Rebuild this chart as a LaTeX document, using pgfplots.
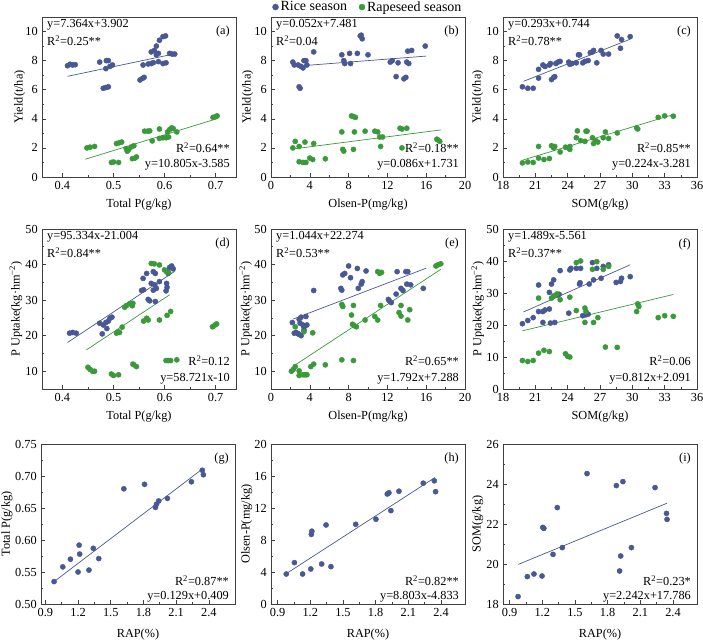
\documentclass[border=0pt]{standalone}
\usepackage{pgfplots}
\pgfplotsset{compat=1.18}
\usepackage{fontspec}
\setmainfont{Liberation Serif}
\definecolor{riceblue}{RGB}{72,88,148}
\definecolor{rapegreen}{RGB}{58,154,58}
\pgfplotsset{
  panel/.style={
    scale only axis, width=194pt, height=160pt, anchor=south west,
    axis line style={black!75, line width=0.6pt},
    tick style={black!75, line width=0.6pt},
    tick align=inside, xtick pos=left, ytick pos=left,
    minor tick num=1, major tick length=4pt, minor tick length=2.2pt,
    /pgf/number format/assume math mode=true,
    tick label style={font=\fontsize{12.3}{14}\selectfont},
    label style={font=\fontsize{12.3}{14}\selectfont},
    xlabel style={at={(axis description cs:0.5,-0.17)}, anchor=center},
    scaled ticks=false,
  },
  rice/.style={only marks, mark=*, mark size=2.6pt, color=riceblue, mark options={draw=riceblue, fill=riceblue}},
  rape/.style={only marks, mark=*, mark size=2.6pt, color=rapegreen, mark options={draw=rapegreen, fill=rapegreen}},
  rline/.style={riceblue, line width=0.7pt, no marks, forget plot},
  gline/.style={rapegreen, line width=0.7pt, no marks, forget plot},
}
\newcommand{\TLtext}[2]{%
  \node[anchor=west,inner sep=0pt,xshift=5pt,yshift=-8pt] at (rel axis cs:0,1) {#1};
  \node[anchor=west,inner sep=0pt,xshift=5pt,yshift=-24pt] at (rel axis cs:0,1) {#2};}
\newcommand{\BRtext}[4]{%
  \node[anchor=east,inner sep=0pt,xshift=-6pt,yshift=#3pt] at (rel axis cs:1,0) {#1};
  \node[anchor=east,inner sep=0pt,xshift=-6pt,yshift=#4pt] at (rel axis cs:1,0) {#2};}
\newcommand{\Plab}[1]{\node[anchor=east,inner sep=0pt,xshift=-6pt,yshift=-15pt] at (rel axis cs:1,1) {#1};}
\begin{document}
\fontsize{12.3pt}{14pt}\selectfont
\begin{tikzpicture}
\useasboundingbox (0,0) rectangle (703pt,642pt);
% ---------------- (a)
\begin{axis}[panel, at={(42pt,465pt)}, xmin=0.36, xmax=0.74, ymin=0, ymax=11,
  xtick={0.4,0.5,0.6,0.7}, ytick={0,2,...,10},
  xlabel={Total P(g/kg)}, ylabel={Yield(t/ha)},
  ylabel style={at={(axis description cs:-0.115,0.5)}, anchor=center}]
\addplot[rice] coordinates {(0.41,7.65)(0.415,7.75)(0.42,7.7)(0.425,7.72)
 (0.473,7.9)(0.486,8.0)(0.49,8.0)(0.485,7.45)(0.493,7.6)(0.498,7.7)
 (0.48,6.1)(0.485,6.15)(0.49,6.2)(0.552,6.67)(0.557,6.78)(0.56,6.85)
 (0.558,7.7)(0.568,7.77)(0.574,7.8)(0.578,7.86)(0.588,7.93)(0.597,7.8)(0.603,7.85)
 (0.574,8.6)(0.58,8.7)(0.584,8.4)(0.588,8.5)(0.584,9.0)(0.59,9.4)(0.597,9.65)(0.602,9.7)
 (0.61,8.5)(0.615,8.45)(0.62,8.45)};
\addplot[rape] coordinates {(0.448,2.0)(0.454,2.05)(0.463,2.1)
 (0.496,1.0)(0.5,1.03)(0.51,1.0)(0.506,2.3)(0.511,2.35)(0.516,2.4)
 (0.525,1.95)(0.527,1.77)(0.53,1.9)(0.535,2.07)(0.54,2.15)
 (0.537,1.26)(0.542,1.3)(0.545,1.38)(0.561,3.15)(0.567,3.15)(0.571,3.17)
 (0.576,2.48)(0.59,2.65)(0.597,2.7)(0.59,3.3)(0.603,2.7)(0.608,2.75)
 (0.606,3.1)(0.61,3.26)(0.614,3.38)(0.617,3.33)(0.624,3.1)
 (0.695,4.1)(0.7,4.15)(0.703,4.2)};
\addplot[rline] coordinates {(0.41,6.921)(0.62,8.468)};
\addplot[gline] coordinates {(0.445,1.223)(0.705,4.033)};
\TLtext{y=7.364x+3.902}{R\textsuperscript{2}=0.25**}
\BRtext{R\textsuperscript{2}=0.64**}{y=10.805x-3.585}{29}{12}
\Plab{(a)}
\end{axis}
% ---------------- (b)
\begin{axis}[panel, at={(271pt,465pt)}, xmin=0, xmax=20, ymin=0, ymax=11,
  xtick={0,4,...,20}, ytick={0,2,...,10},
  xlabel={Olsen-P(mg/kg)}, ylabel={Yield(t/ha)},
  ylabel style={at={(axis description cs:-0.12,0.5)}, anchor=center},
  legend style={at={(0.5,1.062)}, anchor=center, draw=none, fill=none,
    font=\fontsize{14}{16}\selectfont, legend columns=2, inner sep=0pt,
    /tikz/every even column/.append style={column sep=10pt}},
  legend image code/.code={\draw[mark repeat=2,mark phase=2,#1,mark size=3pt] plot coordinates {(0cm,0cm)(0.17cm,0cm)(0.34cm,0cm)};},
  legend cell align=left]
\addplot[rice] coordinates {(2.25,7.9)(2.4,7.7)(2.8,7.7)(3.1,7.6)(3.3,7.5)(2.9,6.2)(3.0,6.1)
 (3.4,8.0)(3.6,8.0)(3.7,7.7)(4.4,8.6)(7.3,8.4)(7.5,8.0)(7.6,7.8)(8.1,8.5)(8.2,7.8)
 (8.9,8.5)(9.2,9.7)(9.3,9.75)(9.4,9.5)(10.0,8.4)(12.3,7.9)(12.5,8.0)(13.1,7.85)
 (12.9,6.9)(13.7,6.75)(13.9,6.85)(14.0,7.9)(14.2,7.8)(14.1,8.65)(14.5,8.7)(15.9,9.0)};
\addlegendentry{Rice season}
\addplot[rape] coordinates {(2.25,2.0)(2.5,2.45)(2.9,2.1)(2.9,1.05)(3.3,1.0)(3.6,1.0)(3.5,2.4)
 (4.0,1.3)(4.3,1.2)(4.4,2.3)(5.6,1.25)(7.3,3.1)(7.4,1.9)(7.5,1.78)(8.3,4.2)(8.5,4.15)(8.7,4.1)
 (8.6,3.1)(8.5,1.9)(9.7,3.15)(10.7,3.15)(11.0,3.1)(11.2,2.75)(11.5,2.75)(11.3,2.1)
 (13.3,3.35)(13.5,3.3)(14.0,3.35)(13.5,2.0)(17.1,2.6)(17.4,2.45)(17.2,2.55)};
\addlegendentry{Rapeseed season}
\addplot[rline] coordinates {(2.3,7.601)(16,8.313)};
\addplot[gline] coordinates {(2.3,1.929)(17.5,3.236)};
\TLtext{y=0.052x+7.481}{R\textsuperscript{2}=0.04}
\BRtext{R\textsuperscript{2}=0.18**}{y=0.086x+1.731}{29}{12}
\Plab{(b)}
\end{axis}
% ---------------- (c)
\begin{axis}[panel, at={(503pt,465pt)}, xmin=18, xmax=36, ymin=0, ymax=11,
  xtick={18,21,...,36}, ytick={0,2,...,10},
  xlabel={SOM(g/kg)}, ylabel={Yield(t/ha)},
  ylabel style={at={(axis description cs:-0.13,0.5)}, anchor=center}]
\addplot[rice] coordinates {(19.8,6.2)(20.3,6.1)(20.8,6.1)(21.3,6.8)(21.3,7.4)(21.7,7.7)(21.9,7.6)
 (22.3,7.7)(22.4,7.8)(22.5,6.7)(22.7,6.85)(22.8,6.9)(22.9,7.8)(23.1,7.9)(23.3,7.95)(24.1,7.9)
 (24.2,7.75)(24.4,7.8)(24.8,7.85)(25.0,8.4)(25.1,8.4)(25.4,7.85)(25.6,7.95)(25.9,8.0)(26.1,8.55)
 (26.3,8.6)(26.4,8.7)(26.7,7.85)(27.1,8.7)(27.3,8.45)(27.8,8.45)(28.6,9.7)(28.9,8.85)(29.0,9.45)(29.8,9.65)};
\addplot[rape] coordinates {(19.8,0.97)(20.3,1.03)(20.8,1.0)(21.3,1.3)(21.3,2.1)(21.8,1.2)(22.3,1.27)
 (22.5,2.15)(22.7,2.0)(22.8,2.1)(23.3,1.72)(23.8,2.05)(24.1,2.0)(24.2,1.9)(24.2,2.1)(24.8,2.7)
 (24.9,3.17)(25.2,2.5)(25.6,2.45)(25.7,3.15)(25.8,3.15)(26.3,2.7)(26.4,2.3)(26.6,2.5)(26.8,2.4)
 (27.3,2.7)(27.5,3.1)(27.8,2.65)(28.6,3.03)(30.4,3.38)(30.5,3.3)(32.4,4.1)(33.0,4.2)(33.8,4.18)};
\addplot[rline] coordinates {(19.9,6.575)(29.8,9.475)};
\addplot[gline] coordinates {(19.8,1.154)(33.8,4.290)};
\TLtext{y=0.293x+0.744}{R\textsuperscript{2}=0.78**}
\BRtext{R\textsuperscript{2}=0.85**}{y=0.224x-3.281}{29}{12}
\Plab{(c)}
\end{axis}
% ---------------- (d)
\begin{axis}[panel, at={(42pt,253pt)}, xmin=0.36, xmax=0.74, ymin=5, ymax=50,
  xtick={0.4,0.5,0.6,0.7}, ytick={10,20,...,50},
  xlabel={Total P(g/kg)}, ylabel={P Uptake(kg·hm\textsuperscript{−2})},
  ylabel style={at={(axis description cs:-0.135,0.5)}, anchor=center}]
\addplot[rice] coordinates {(0.414,20.7)(0.42,20.9)(0.427,20.7)(0.473,23.5)(0.48,23.0)(0.485,23.7)
 (0.49,24.1)(0.493,24.9)(0.497,25.2)(0.487,22.0)(0.478,20.5)(0.555,32.7)(0.559,32.9)(0.558,36.1)
 (0.565,37.5)(0.568,30.2)(0.571,29.8)(0.582,29.6)(0.578,38.0)(0.582,37.5)(0.574,34.7)(0.581,34.3)
 (0.584,33.3)(0.59,35.2)(0.578,32.8)(0.604,38.2)(0.607,37.5)(0.61,39.2)(0.614,39.6)(0.617,38.8)
 (0.603,32.6)(0.605,33.6)(0.604,34.7)};
\addplot[rape] coordinates {(0.45,11.1)(0.454,10.5)(0.459,10.0)(0.463,10.0)(0.496,9.2)(0.5,8.8)(0.51,9.0)
 (0.506,20.7)(0.509,21.1)(0.512,20.9)(0.517,22.4)(0.522,28.0)(0.525,28.4)(0.532,29.0)(0.537,28.4)
 (0.538,29.1)(0.538,12.0)(0.54,11.8)(0.545,11.3)(0.559,24.1)(0.565,24.9)(0.568,24.4)(0.574,40.3)
 (0.58,40.2)(0.59,39.9)(0.59,24.4)(0.6,38.5)(0.604,38.0)(0.608,37.8)(0.603,13.0)(0.607,13.0)
 (0.612,13.0)(0.624,13.2)(0.605,25.7)(0.612,26.8)(0.694,22.5)(0.699,23.0)(0.702,23.3)};
\addplot[rline] coordinates {(0.41,18.08)(0.62,38.10)};
\addplot[gline] coordinates {(0.447,16.0)(0.61,31.5)};
\TLtext{y=95.334x-21.004}{R\textsuperscript{2}=0.84**}
\BRtext{R\textsuperscript{2}=0.12}{y=58.721x-10}{28}{10}
\Plab{(d)}
\end{axis}
% ---------------- (e)
\begin{axis}[panel, at={(271pt,253pt)}, xmin=0, xmax=20, ymin=5, ymax=50,
  xtick={0,4,...,20}, ytick={10,20,...,50},
  xlabel={Olsen-P(mg/kg)}, ylabel={P Uptake(kg·hm\textsuperscript{−2})},
  ylabel style={at={(axis description cs:-0.13,0.5)}, anchor=center}]
\addplot[rice] coordinates {(2.2,23.7)(2.4,20.7)(2.6,20.9)(2.8,20.5)(2.9,24.6)(3.0,23.5)(3.1,25.2)
 (3.3,23.0)(3.4,21.6)(2.9,20.4)(3.1,20.0)(3.4,22.4)(3.6,25.4)(3.7,23.0)(4.4,32.7)(7.2,33.3)(7.3,32.8)
 (7.4,37.1)(7.6,37.5)(8.0,39.6)(8.2,36.3)(8.9,38.9)(9.0,33.3)(9.3,34.5)(9.4,35.2)(9.8,38.2)
 (12.1,30.2)(12.2,29.8)(12.4,29.3)(13.0,38.0)(12.9,31.7)(13.4,33.3)(13.6,32.7)(13.9,38.0)
 (14.1,38.0)(14.0,34.5)(14.4,34.3)(15.7,33.3)};
\addplot[rape] coordinates {(2.1,10.0)(2.3,10.5)(2.5,11.3)(2.5,22.5)(2.9,10.1)(2.9,8.8)(3.3,9.0)
 (3.5,9.0)(3.7,9.0)(3.4,21.1)(4.3,20.8)(4.1,11.3)(4.4,12.0)(5.6,11.8)(7.3,28.8)(7.4,28.2)(7.3,13.2)
 (8.3,25.8)(8.4,23.2)(8.6,22.8)(8.8,22.5)(8.5,28.5)(8.5,13.0)(9.7,24.4)(10.7,25.4)(11.0,24.4)
 (11.0,38.0)(11.2,37.5)(11.4,37.8)(11.3,28.5)(13.2,26.5)(13.4,25.5)(13.4,28.5)(14.1,24.4)
 (14.3,27.3)(17.0,39.6)(17.2,39.9)(17.5,40.2)};
\addplot[rline] coordinates {(2.3,24.68)(16,38.98)};
\addplot[gline] coordinates {(2.3,11.41)(17.5,38.65)};
\TLtext{y=1.044x+22.274}{R\textsuperscript{2}=0.53**}
\BRtext{R\textsuperscript{2}=0.65**}{y=1.792x+7.288}{28}{10}
\Plab{(e)}
\end{axis}
% ---------------- (f)
\begin{axis}[panel, at={(503pt,253pt)}, xmin=18, xmax=36, ymin=0, ymax=50,
  xtick={18,21,...,36}, ytick={0,10,...,50},
  xlabel={SOM(g/kg)}, ylabel={P Uptake(kg·hm\textsuperscript{−2})},
  ylabel style={at={(axis description cs:-0.13,0.5)}, anchor=center}]
\addplot[rice] coordinates {(19.8,20.4)(20.3,21.4)(20.8,22.3)(21.3,24.2)(21.3,32.5)(21.7,24.2)
 (21.9,24.7)(22.3,25.0)(21.7,20.8)(22.3,30.2)(22.5,32.8)(22.7,34.1)(22.4,20.6)(22.8,20.8)
 (23.1,29.4)(23.2,29.6)(23.3,37.0)(24.1,23.7)(24.2,37.2)(24.3,37.7)(24.8,37.7)(25.2,37.7)
 (25.1,32.8)(25.15,33.2)(25.4,22.9)(25.7,23.2)(25.9,23.4)(26.0,32.8)(26.3,39.5)(26.4,34.1)
 (26.7,37.7)(27.1,34.6)(27.3,38.3)(27.8,38.8)(28.5,33.3)(28.9,33.6)(29.0,34.6)(29.8,35.1)};
\addplot[rape] coordinates {(19.8,8.9)(20.3,8.6)(20.8,8.9)(21.3,11.2)(21.3,28.4)(21.8,12.1)(22.3,11.7)
 (22.5,28.4)(22.7,29.1)(23.0,29.7)(23.3,27.9)(23.8,11.0)(24.0,10.2)(24.2,10.0)(24.2,28.7)
 (24.8,24.5)(24.8,39.5)(25.2,40.0)(25.6,25.3)(25.7,24.2)(25.6,20.8)(26.3,37.4)(26.7,39.8)
 (26.4,20.8)(26.8,22.3)(27.3,37.4)(27.8,38.3)(27.5,13.1)(28.6,13.0)(30.4,24.2)(30.5,26.6)
 (30.6,25.8)(32.4,22.3)(33.0,22.9)(33.8,22.7)};
\addplot[rline] coordinates {(19.9,24.07)(29.8,38.81)};
\addplot[gline] coordinates {(19.8,18.17)(33.8,29.54)};
\TLtext{y=1.489x-5.561}{R\textsuperscript{2}=0.37**}
\BRtext{R\textsuperscript{2}=0.06}{y=0.812x+2.091}{28}{10}
\Plab{(f)}
\end{axis}
% ---------------- (g)
\begin{axis}[panel, at={(41pt,38pt)}, xmin=0.86, xmax=2.64, ymin=0.5, ymax=0.75,
  xtick={0.9,1.2,1.5,1.8,2.1,2.4}, ytick={0.5,0.55,0.6,0.65,0.7,0.75},
  yticklabel style={/pgf/number format/.cd, fixed, fixed zerofill, precision=2},
  xlabel={RAP(\%)}, ylabel={Total P(g/kg)},
  xlabel style={at={(axis description cs:0.5,-0.19)}, anchor=center},
  ylabel style={at={(axis description cs:-0.175,0.5)}, anchor=center}]
\addplot[rice] coordinates {(0.98,0.535)(1.06,0.558)(1.13,0.570)(1.20,0.550)(1.21,0.592)(1.215,0.578)
 (1.30,0.553)(1.34,0.587)(1.39,0.571)(1.62,0.680)(1.81,0.687)(1.91,0.651)(1.92,0.656)(1.94,0.661)
 (2.02,0.665)(2.24,0.691)(2.34,0.709)(2.35,0.702)};
\addplot[rline] coordinates {(0.98,0.535)(2.345,0.7115)};
\BRtext{R\textsuperscript{2}=0.87**}{y=0.129x+0.409}{23}{7}
\Plab{(g)}
\end{axis}
% ---------------- (h)
\begin{axis}[panel, at={(271pt,38pt)}, xmin=0.84, xmax=2.62, ymin=0, ymax=20,
  xtick={0.9,1.2,1.5,1.8,2.1,2.4}, ytick={0,4,...,20},
  xlabel={RAP(\%)}, ylabel={Olsen-P(mg/kg)},
  xlabel style={at={(axis description cs:0.5,-0.19)}, anchor=center},
  ylabel style={at={(axis description cs:-0.125,0.5)}, anchor=center}]
\addplot[rice] coordinates {(0.98,3.75)(1.055,5.17)(1.13,3.75)(1.205,4.38)(1.21,8.7)(1.215,9.1)
 (1.305,5.0)(1.345,9.88)(1.39,4.67)(1.617,9.96)(1.803,10.6)(1.907,13.75)(1.922,13.9)(1.94,11.67)
 (2.014,14.1)(2.237,15.1)(2.338,15.4)(2.35,14.04)};
\addplot[rline] coordinates {(0.98,3.794)(2.345,15.81)};
\BRtext{R\textsuperscript{2}=0.82**}{y=8.803x-4.833}{23}{7}
\Plab{(h)}
\end{axis}
% ---------------- (i)
\begin{axis}[panel, at={(503pt,38pt)}, xmin=0.84, xmax=2.62, ymin=18, ymax=26,
  xtick={0.9,1.2,1.5,1.8,2.1,2.4}, ytick={18,20,...,26},
  xlabel={RAP(\%)}, ylabel={SOM(g/kg)},
  xlabel style={at={(axis description cs:0.5,-0.19)}, anchor=center},
  ylabel style={at={(axis description cs:-0.13,0.5)}, anchor=center}]
\addplot[rice] coordinates {(0.978,18.37)(1.063,19.37)(1.124,19.5)(1.198,19.4)(1.205,21.83)(1.215,21.78)
 (1.299,20.48)(1.338,22.82)(1.384,20.82)(1.611,24.52)(1.88,23.92)(1.91,19.65)(1.92,20.4)(1.94,24.12)
 (2.018,20.82)(2.235,23.82)(2.34,22.53)(2.345,22.23)};
\addplot[rline] coordinates {(0.98,19.98)(2.345,23.04)};
\BRtext{R\textsuperscript{2}=0.23*}{y=2.242x+17.786}{23}{7}
\Plab{(i)}
\end{axis}
\end{tikzpicture}
\end{document}
